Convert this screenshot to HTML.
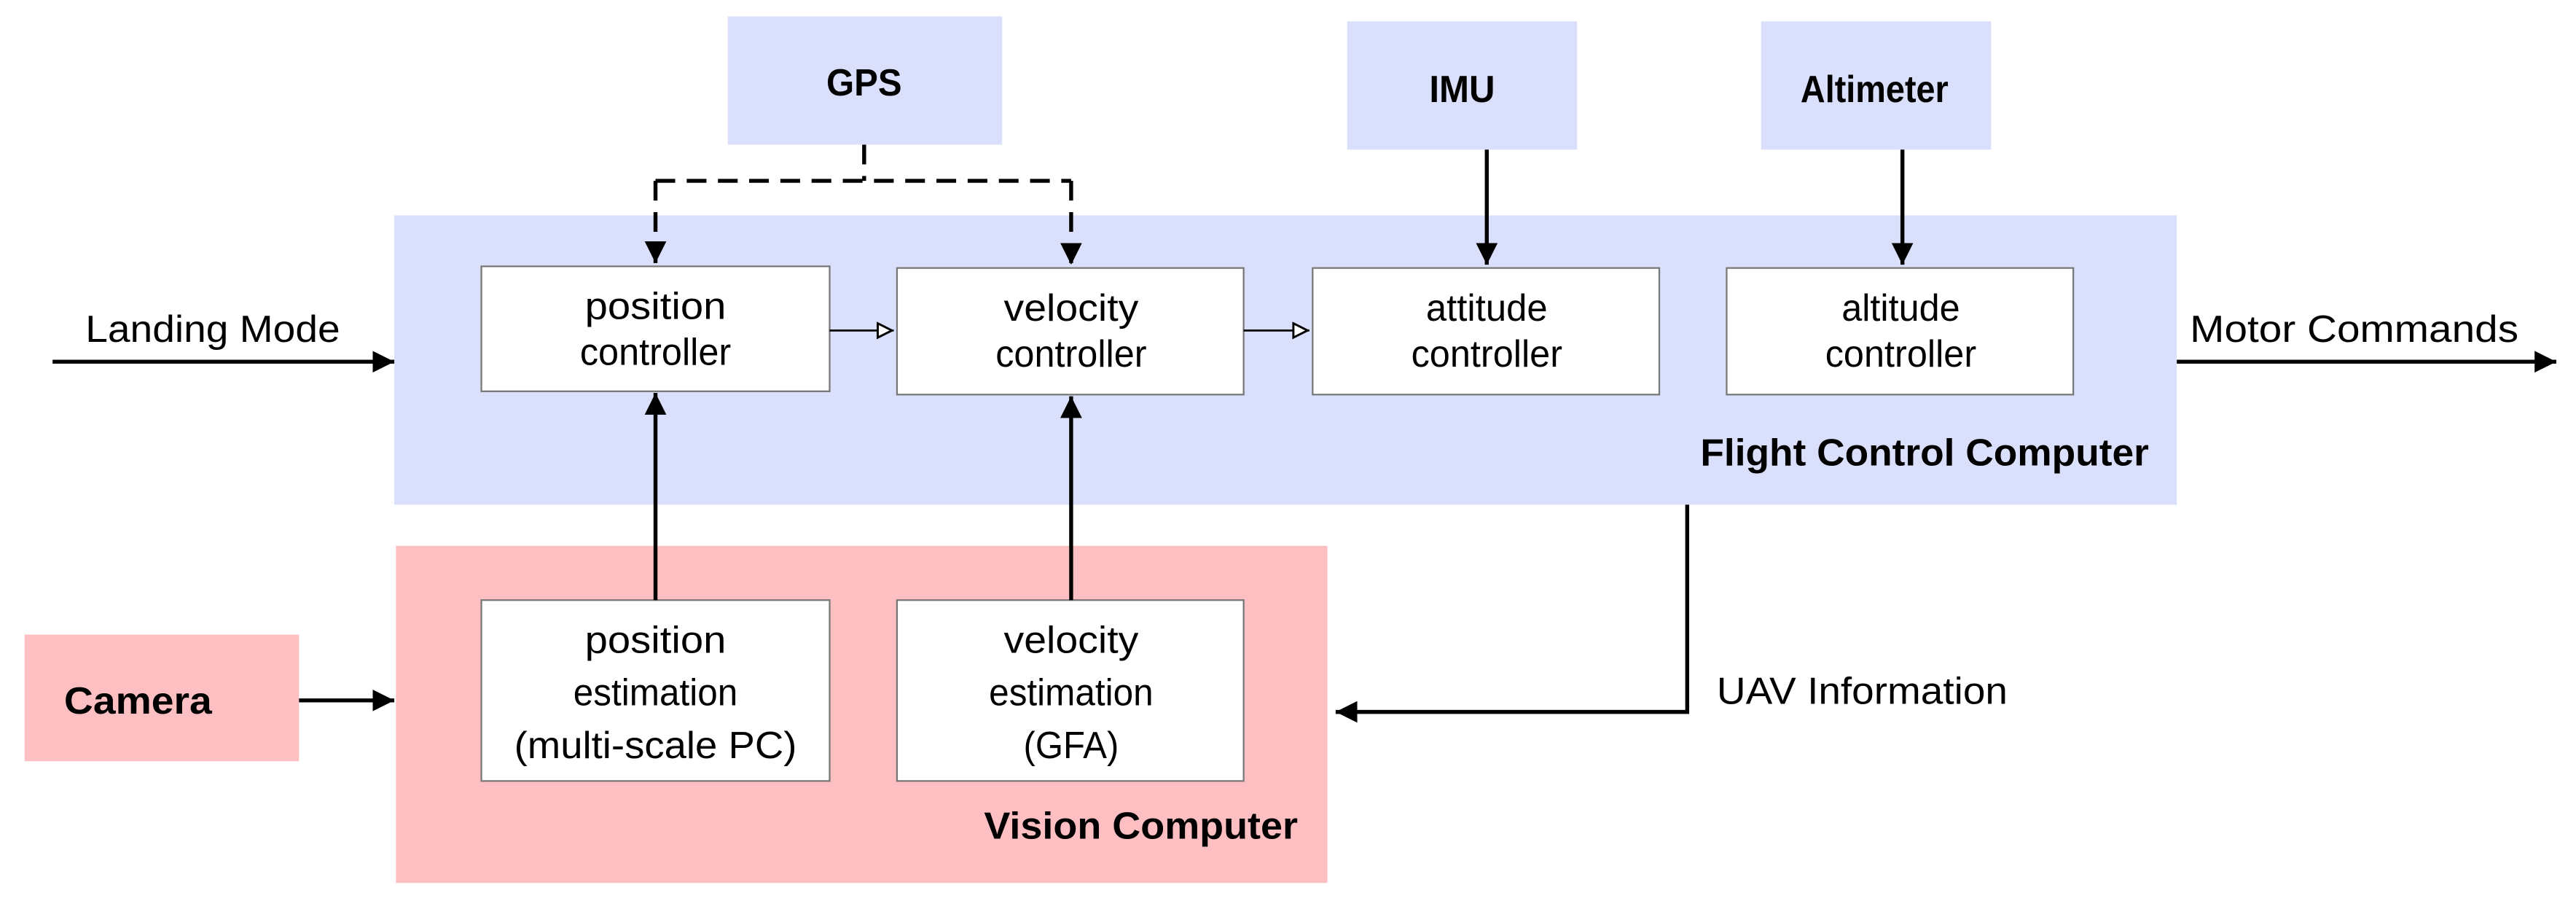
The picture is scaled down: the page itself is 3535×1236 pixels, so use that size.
<!DOCTYPE html>
<html><head><meta charset="utf-8"><style>html,body{margin:0;padding:0;background:#fff}svg{display:block}</style></head>
<body>
<svg width="3535" height="1236" viewBox="0 0 1568 548" preserveAspectRatio="none" xmlns="http://www.w3.org/2000/svg" font-family="Liberation Sans, Arial, sans-serif" font-size="23" fill="#000">
<defs>
<marker id="a" viewBox="0 0 10 10" refX="10" refY="5" markerWidth="5.5" markerHeight="5.5" orient="auto" markerUnits="strokeWidth"><path d="M0,0L10,5L0,10z" fill="#000"/></marker>
<marker id="o" viewBox="0 0 10 10" refX="10" refY="5" markerWidth="9" markerHeight="9" orient="auto" markerUnits="strokeWidth"><path d="M1,1L9,5L1,9z" fill="#fff" stroke="#000" stroke-width="1.2"/></marker>
</defs>
<rect x="240" y="131" width="1085" height="176" fill="#dae0fb"/>
<rect x="241" y="332" width="567" height="205" fill="#fdbfc1"/>
<rect x="443" y="10" width="167" height="78" fill="#dae0fb"/>
<rect x="820" y="13" width="140" height="78" fill="#dae0fb"/>
<rect x="1072" y="13" width="140" height="78" fill="#dae0fb"/>
<rect x="15" y="386" width="167" height="77" fill="#fdbfc1"/>
<g fill="#fff" stroke="#777" stroke-width="1">
<rect x="293" y="162" width="212" height="76"/>
<rect x="546" y="163" width="211" height="77"/>
<rect x="799" y="163" width="211" height="77"/>
<rect x="1051" y="163" width="211" height="77"/>
<rect x="293" y="365" width="212" height="110"/>
<rect x="546" y="365" width="211" height="110"/>
</g>
<g stroke="#000" fill="none" stroke-width="2.4">
<path d="M526,88V110M399,110H652" stroke-dasharray="12,7"/>
<path d="M399,110V160" stroke-dasharray="12,7" marker-end="url(#a)"/>
<path d="M652,110V161" stroke-dasharray="12,7" marker-end="url(#a)"/>
<path d="M905,91V161" marker-end="url(#a)"/>
<path d="M1158,91V161" marker-end="url(#a)"/>
<path d="M32,220H240" marker-end="url(#a)"/>
<path d="M1325,220H1556" marker-end="url(#a)"/>
<path d="M399,365V239" marker-end="url(#a)"/>
<path d="M652,365V241" marker-end="url(#a)"/>
<path d="M182,426H240" marker-end="url(#a)"/>
<path d="M1027,307V433H813" marker-end="url(#a)"/>
<path d="M505,201H544" stroke-width="1.2" marker-end="url(#o)"/>
<path d="M757,201H797" stroke-width="1.2" marker-end="url(#o)"/>
</g>
<g text-anchor="middle">
<text x="526" y="58" font-weight="bold" textLength="46" lengthAdjust="spacingAndGlyphs">GPS</text>
<text x="890" y="62" font-weight="bold" textLength="40" lengthAdjust="spacingAndGlyphs">IMU</text>
<text x="1141" y="62" font-weight="bold" textLength="90" lengthAdjust="spacingAndGlyphs">Altimeter</text>
<text x="84" y="434" font-weight="bold" textLength="90" lengthAdjust="spacingAndGlyphs">Camera</text>
<text x="399" y="194" textLength="86" lengthAdjust="spacingAndGlyphs">position</text>
<text x="399" y="222" textLength="92" lengthAdjust="spacingAndGlyphs">controller</text>
<text x="652" y="195" textLength="82" lengthAdjust="spacingAndGlyphs">velocity</text>
<text x="652" y="223" textLength="92" lengthAdjust="spacingAndGlyphs">controller</text>
<text x="905" y="195" textLength="74" lengthAdjust="spacingAndGlyphs">attitude</text>
<text x="905" y="223" textLength="92" lengthAdjust="spacingAndGlyphs">controller</text>
<text x="1157" y="195" textLength="72" lengthAdjust="spacingAndGlyphs">altitude</text>
<text x="1157" y="223" textLength="92" lengthAdjust="spacingAndGlyphs">controller</text>
<text x="399" y="397" textLength="86" lengthAdjust="spacingAndGlyphs">position</text>
<text x="399" y="429" textLength="100" lengthAdjust="spacingAndGlyphs">estimation</text>
<text x="399" y="461" textLength="172" lengthAdjust="spacingAndGlyphs">(multi-scale PC)</text>
<text x="652" y="397" textLength="82" lengthAdjust="spacingAndGlyphs">velocity</text>
<text x="652" y="429" textLength="100" lengthAdjust="spacingAndGlyphs">estimation</text>
<text x="652" y="461" textLength="58" lengthAdjust="spacingAndGlyphs">(GFA)</text>
</g>
<text x="52" y="208" textLength="155" lengthAdjust="spacingAndGlyphs">Landing Mode</text>
<text x="1333" y="208" textLength="200" lengthAdjust="spacingAndGlyphs">Motor Commands</text>
<text x="1045" y="428" textLength="177" lengthAdjust="spacingAndGlyphs">UAV Information</text>
<text x="1035" y="283" font-weight="bold" textLength="273" lengthAdjust="spacingAndGlyphs">Flight Control Computer</text>
<text x="599" y="510" font-weight="bold" textLength="191" lengthAdjust="spacingAndGlyphs">Vision Computer</text>
</svg>
</body></html>
